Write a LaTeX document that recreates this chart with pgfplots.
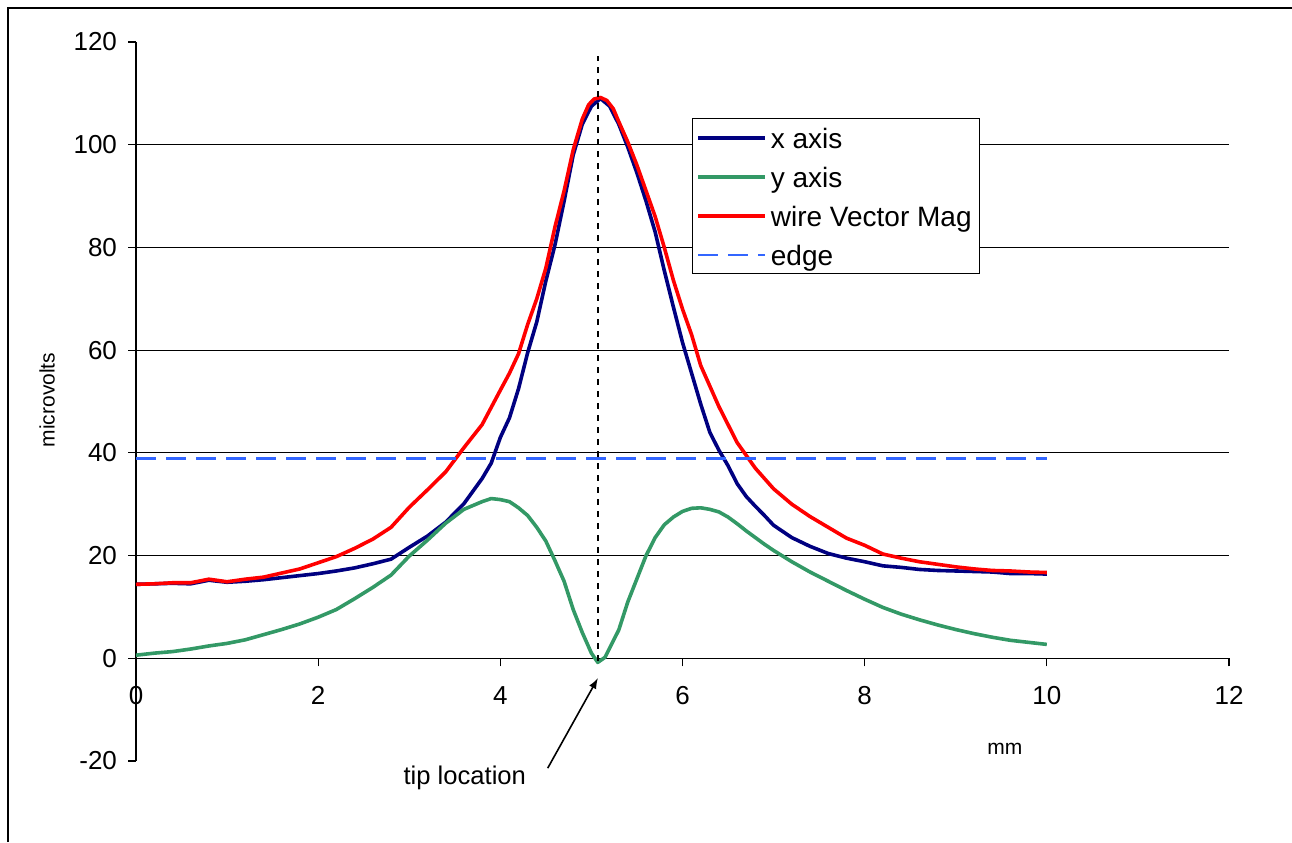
\documentclass[border=0pt]{standalone}
\usepackage{pgfplots}
\pgfplotsset{compat=1.18}
\usepackage{fontspec}
\setmainfont{Liberation Sans}
\definecolor{cnavy}{HTML}{000080}
\definecolor{cgreen}{HTML}{339966}
\definecolor{cred}{HTML}{FF0000}
\definecolor{cblue}{HTML}{3366FF}
\begin{document}
\begin{tikzpicture}
\useasboundingbox (0,0) rectangle (646pt,421pt);
\draw[line width=1pt] (4pt,0pt) -- (4pt,417pt) -- (646pt,417pt);
\begin{axis}[
  at={(68pt,40.5pt)}, anchor=south west,
  scale only axis, width=546.5pt, height=359.5pt,
  xmin=0, xmax=12, ymin=-20, ymax=120,
  axis x line=middle, axis y line=left,
  axis line style={-, black, line width=0.6pt},
  hide obscured x ticks=false,
  xtick={0,2,...,12}, ytick={-20,0,...,120},
  extra y ticks={20,40,60,80,100}, extra y tick labels={},
  extra y tick style={grid=major},
  grid style={black, line width=0.5pt},
  tick align=outside, major tick length=4pt,
  tick style={black, line width=0.6pt},
  /pgf/number format/assume math mode=true,
  tick label style={font=\fontsize{13}{15}\selectfont},
  xticklabel style={yshift=-6.5pt},
  yticklabel style={xshift=-2pt},
  xlabel={mm}, ylabel={microvolts},
  xlabel style={at={(axis description cs:0.795,0.0167)}, anchor=center, font=\fontsize{10.5}{12}\selectfont},
  ylabel style={at={(axis description cs:-0.0814,0.502)}, anchor=center, font=\fontsize{10.5}{12}\selectfont},
  clip=false,
  every axis plot/.append style={line join=round},
  legend cell align=left,
  legend image code/.code={\draw[#1] (0pt,0pt) -- (33.5pt,0pt);},
  legend style={at={(axis description cs:0.5084,0.8939)}, anchor=north west,
    draw=black, line width=0.6pt, inner xsep=2pt, inner ysep=1.5pt,
    font=\fontsize{14}{16}\selectfont, row sep=3.5pt,
    nodes={inner xsep=2pt, inner ysep=1.5pt, text height=11.8pt, text depth=1.2pt}},
]
\addplot[cnavy, line width=1.8pt] coordinates {
(0,14.4) (0.2,14.5) (0.4,14.6) (0.6,14.5) (0.8,15.2) (1.0,14.8) (1.2,15.0) (1.4,15.3)
(1.6,15.7) (1.8,16.1) (2.0,16.5) (2.2,17.0) (2.4,17.6) (2.6,18.4) (2.8,19.3) (3.0,21.6)
(3.2,23.8) (3.4,26.5) (3.6,30.1) (3.8,35.0) (3.9,38.0) (4.0,43.0) (4.1,46.8) (4.2,52.5)
(4.3,59.5) (4.4,65.5) (4.5,73.5) (4.6,80.5) (4.7,89.0) (4.8,98.0) (4.9,104.0) (5.0,107.5)
(5.1,109.0) (5.2,107.5) (5.3,104.0) (5.4,99.5) (5.5,94.5) (5.6,89.0) (5.7,83.0) (5.8,75.5)
(5.9,68.4) (6.0,61.5) (6.1,55.5) (6.2,49.5) (6.3,44.0) (6.4,40.5) (6.5,37.5) (6.6,34.0)
(6.7,31.5) (6.8,29.6) (6.9,27.8) (7.0,25.9) (7.2,23.5) (7.4,21.8) (7.6,20.4) (7.8,19.5)
(8.0,18.8) (8.2,18.0) (8.4,17.7) (8.6,17.3) (8.8,17.1) (9.0,17.0) (9.2,16.9) (9.4,16.8)
(9.6,16.5) (9.8,16.5) (10.0,16.4)};
\addlegendentry{x axis}
\addplot[cgreen, line width=1.8pt] coordinates {
(0,0.6) (0.2,1.0) (0.4,1.3) (0.6,1.8) (0.8,2.4) (1.0,2.9) (1.2,3.6) (1.4,4.6) (1.6,5.6)
(1.8,6.7) (2.0,8.0) (2.2,9.5) (2.4,11.6) (2.6,13.8) (2.8,16.2) (3.0,19.9) (3.2,23.0)
(3.4,26.3) (3.6,29.0) (3.8,30.5) (3.9,31.1) (4.0,30.9) (4.1,30.5) (4.2,29.3) (4.3,27.8)
(4.4,25.5) (4.5,22.8) (4.6,19.0) (4.7,15.0) (4.8,9.5) (4.9,5.0) (5.0,1.0) (5.07,-0.8)
(5.15,0.2) (5.2,2.0) (5.3,5.5) (5.4,11.0) (5.5,15.5) (5.6,20.0) (5.7,23.5) (5.8,26.0)
(5.9,27.5) (6.0,28.6) (6.1,29.2) (6.2,29.3) (6.3,29.0) (6.4,28.5) (6.5,27.5) (6.6,26.2)
(6.7,24.8) (6.8,23.5) (6.9,22.2) (7.0,21.0) (7.2,18.8) (7.4,16.8) (7.6,15.0) (7.8,13.2)
(8.0,11.5) (8.2,9.9) (8.4,8.6) (8.6,7.5) (8.8,6.5) (9.0,5.6) (9.2,4.8) (9.4,4.1)
(9.6,3.5) (9.8,3.1) (10.0,2.7)};
\addlegendentry{y axis}
\addplot[cred, line width=1.8pt] coordinates {
(0,14.4) (0.2,14.5) (0.4,14.7) (0.6,14.7) (0.8,15.4) (1.0,14.9) (1.2,15.4) (1.4,15.8)
(1.6,16.6) (1.8,17.4) (2.0,18.6) (2.2,19.8) (2.4,21.4) (2.6,23.2) (2.8,25.5) (3.0,29.4)
(3.2,32.8) (3.4,36.3) (3.6,41.0) (3.8,45.5) (4.0,52.2) (4.1,55.5) (4.2,59.3) (4.3,65.0)
(4.4,70.0) (4.5,76.0) (4.6,84.0) (4.7,91.0) (4.8,99.0) (4.9,105.0) (4.97,107.8) (5.03,108.9) (5.1,109.2)
(5.17,108.6) (5.24,107.0) (5.3,104.5) (5.4,100.5) (5.5,96.0) (5.6,91.0) (5.7,86.0) (5.8,80.0) (5.9,73.6)
(6.0,68.0) (6.1,63.0) (6.2,57.0) (6.3,53.0) (6.4,49.0) (6.5,45.5) (6.6,42.0) (6.7,39.5)
(6.8,37.0) (6.9,35.0) (7.0,33.0) (7.2,30.0) (7.4,27.6) (7.6,25.5) (7.8,23.4) (8.0,22.0)
(8.2,20.3) (8.4,19.5) (8.6,18.8) (8.8,18.3) (9.0,17.8) (9.2,17.4) (9.4,17.1) (9.6,17.0)
(9.8,16.8) (10.0,16.7)};
\addlegendentry{wire Vector Mag}
\addplot[cblue, line width=1.3pt, dash pattern=on 10pt off 5pt] coordinates {(0,38.9) (10,38.9)};
\addlegendentry{edge}
\addplot[black, line width=1pt, dash pattern=on 3pt off 3pt, forget plot] coordinates {(5.07,-0.5) (5.07,117.2)};
\draw[-latex, line width=0.8pt] (axis cs:4.52,-21.4) -- (axis cs:5.07,-3.9);
\node[font=\fontsize{12.8}{15}\selectfont, anchor=center] at (axis cs:3.61,-23.2) {tip location};
\end{axis}
\end{tikzpicture}
\end{document}
